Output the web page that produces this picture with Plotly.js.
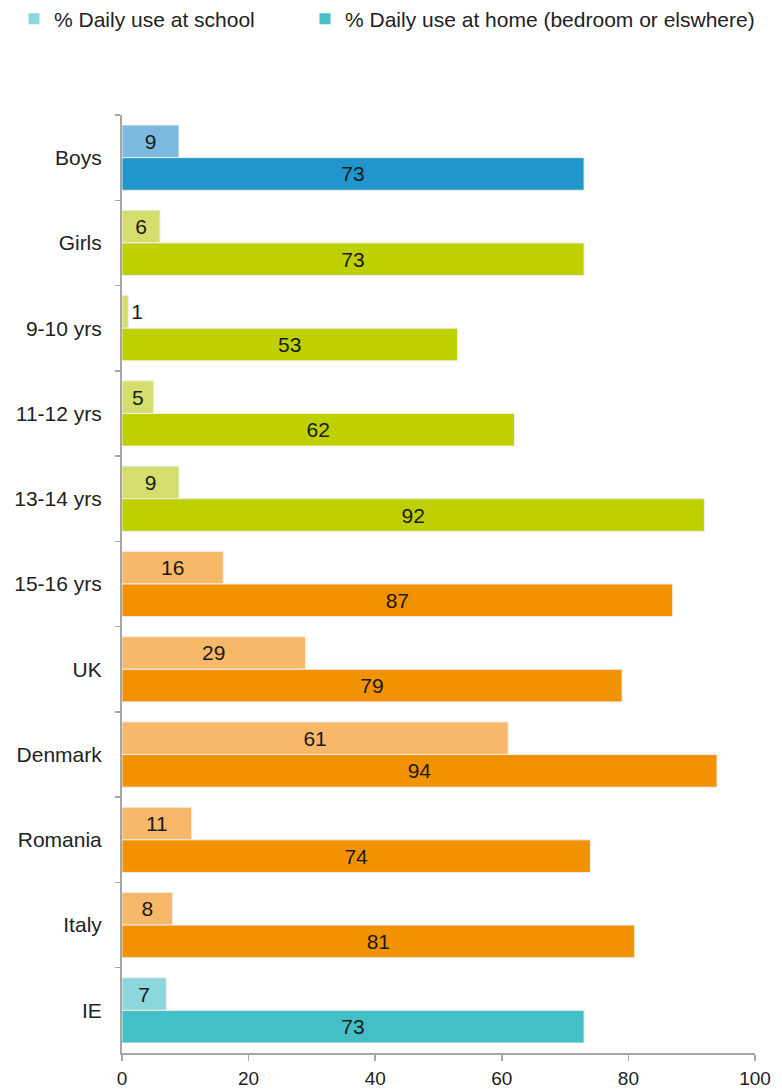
<!DOCTYPE html>
<html>
<head>
<meta charset="utf-8">
<script src="https://cdn.plot.ly/plotly-3.0.1.min.js"></script>
<style>html,body{margin:0;padding:0;background:#fff;}#chart{width:782px;height:1090px;}</style>
</head>
<body>
<div id="chart"></div>
<script>
var categories = ["Boys","Girls","9-10 yrs","11-12 yrs","13-14 yrs","15-16 yrs","UK","Denmark","Romania","Italy","IE"];
var schoolValues = [9,6,1,5,9,16,29,61,11,8,7];
var homeValues = [73,73,53,62,92,87,79,94,74,81,73];
var schoolColors = ["#7DB9DE","#D4DE6C","#D4DE6C","#D4DE6C","#D4DE6C","#F8B86A","#F8B86A","#F8B86A","#F8B86A","#F8B86A","#8CD7DA"];
var homeColors = ["#2196CC","#BFD000","#BFD000","#BFD000","#BFD000","#F39200","#F39200","#F39200","#F39200","#F39200","#44BFC6"];
var seriesNames = ["% Daily use at school","% Daily use at home (bedroom or elswhere)"];
var legendColors = ["#8CD7DA","#44BFC6"];

var FONT = "Liberation Sans, Arial, Helvetica, sans-serif";
var schoolPos = schoolValues.map(function(v){ return v < 3 ? "outside" : "inside"; });

var traces = [
  {
    type: "bar", orientation: "h", name: seriesNames[0], showlegend: false,
    y: categories, x: schoolValues,
    text: schoolValues.map(String), textposition: schoolPos, insidetextanchor: "middle",
    constraintext: "none", cliponaxis: false,
    textfont: {family: FONT, size: 21, color: "#1a1a1a"},
    marker: {color: schoolColors, line: {color: "#eeeeee", width: 1}},
    hoverinfo: "x+y"
  },
  {
    type: "bar", orientation: "h", name: seriesNames[1], showlegend: false,
    y: categories, x: homeValues,
    text: homeValues.map(String), textposition: "inside", insidetextanchor: "middle",
    constraintext: "none",
    textfont: {family: FONT, size: 21, color: "#1a1a1a"},
    marker: {color: homeColors, line: {color: "#eeeeee", width: 1}},
    hoverinfo: "x+y"
  },
  {
    type: "scatter", mode: "markers", name: seriesNames[0], x: [null], y: [null],
    marker: {symbol: "square", size: 11, color: legendColors[0]}, showlegend: true, legend: "legend"
  },
  {
    type: "scatter", mode: "markers", name: seriesNames[1], x: [null], y: [null],
    marker: {symbol: "square", size: 11, color: legendColors[1]}, showlegend: true, legend: "legend2"
  }
];

var legendBase = {
  orientation: "h", xref: "container", yref: "container",
  xanchor: "left", yanchor: "middle", y: 1 - 19/1090,
  font: {family: FONT, size: 21, color: "#222222"},
  itemwidth: 30, bgcolor: "rgba(0,0,0,0)", borderwidth: 0
};

var layout = {
  width: 782, height: 1090,
  margin: {l: 122, r: 27, t: 115, b: 37, pad: 0},
  paper_bgcolor: "#ffffff", plot_bgcolor: "#ffffff",
  font: {family: FONT, color: "#222222"},
  barmode: "group", bargap: 0.235, bargroupgap: 0,
  showlegend: true,
  legend: Object.assign({}, legendBase, {x: 14/782}),
  legend2: Object.assign({}, legendBase, {x: 305/782}),
  xaxis: {
    range: [0, 100], dtick: 20, tick0: 0, showgrid: false, zeroline: false,
    showline: true, linecolor: "#A6A6A6", linewidth: 2,
    ticks: "outside", ticklen: 6, tickcolor: "#A6A6A6", tickwidth: 1.5,
    tickfont: {family: FONT, size: 19, color: "#222222"}, ticklabelstandoff: 1,
    fixedrange: true
  },
  yaxis: {
    type: "category", autorange: "reversed", showgrid: false, zeroline: false,
    showline: true, linecolor: "#A6A6A6", linewidth: 2,
    ticks: "outside", tickson: "boundaries", ticklen: 5, tickcolor: "#A6A6A6", tickwidth: 1.5,
    tickfont: {family: FONT, size: 21, color: "#222222"}, ticklabelstandoff: 14,
    fixedrange: true
  }
};

Plotly.newPlot("chart", traces, layout, {displayModeBar: false, staticPlot: true});
</script>
</body>
</html>
